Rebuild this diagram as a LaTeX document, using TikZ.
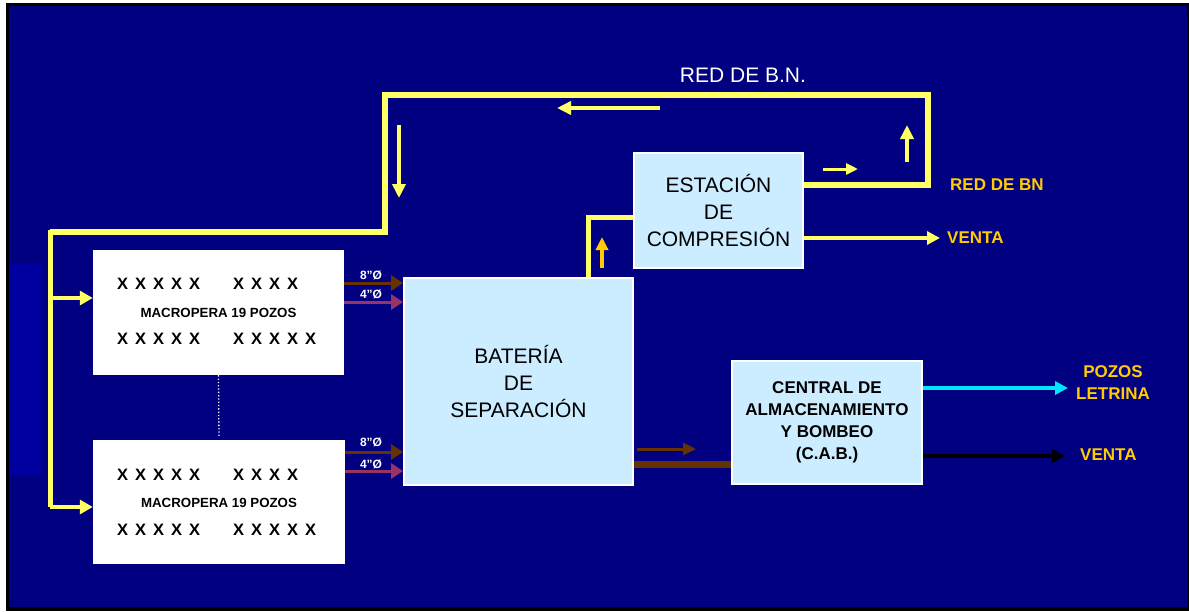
\documentclass[tikz,border=0pt]{standalone}
\usepackage{fontspec}
\setmainfont{Liberation Sans}
\usetikzlibrary{arrows.meta}
\definecolor{navybg}{RGB}{0,0,128}
\definecolor{stripe}{RGB}{0,0,160}
\definecolor{lightbox}{RGB}{204,236,255}
\definecolor{pipeyellow}{RGB}{255,255,102}
\definecolor{gold}{RGB}{255,204,0}
\definecolor{brownpipe}{RGB}{102,51,0}
\definecolor{mauve}{RGB}{153,51,102}
\definecolor{cyanline}{RGB}{0,230,255}
\newcommand\fsz[2]{\fontsize{#1}{#2}\selectfont}
\newcommand\xg{\hspace{7pt}}
\begin{document}
\begin{tikzpicture}[x=1pt,y=-1pt,
  procbox/.style={draw=white, line width=2pt, fill=lightbox, inner sep=0pt, align=center, text=black},
  bigtext/.style={font=\fsz{21}{27}},
  cabtext/.style={font=\bfseries\fsz{17}{22}},
  wellbox/.style={fill=white, draw=none, inner sep=0pt},
  xrow/.style={font=\bfseries\fsz{16.5}{16.5}, inner sep=0pt, anchor=west, text=black},
  mptext/.style={font=\bfseries\fsz{13.3}{13.3}, inner sep=0pt, text=black},
  goldlabel/.style={font=\bfseries\fsz{17}{22}, text=gold, inner sep=0pt, align=center},
  dimlabel/.style={font=\bfseries\fsz{12}{12}, text=white, inner sep=0pt},
  pipe/.style={draw=pipeyellow, line width=6.5pt, line join=miter},
  feedpipe/.style={draw=pipeyellow, line width=5pt, line join=miter},
  feedarrow/.style={draw=pipeyellow, line width=4pt, -{Triangle[length=13pt,width=14pt]}},
  flowarrow/.style={draw=pipeyellow, line width=3.5pt, -{Triangle[length=14pt,width=13pt]}},
  goldarrow/.style={draw=gold, line width=3.5pt, -{Triangle[length=13pt,width=12pt]}},
  outarrow/.style={line width=4pt, -{Triangle[length=13pt,width=13pt]}},
  gasin/.style={line width=3pt, -{Triangle[length=12pt,width=15pt]}}
]
\useasboundingbox (0,0) rectangle (1189,611);
% background and frame
\fill[white] (0,0) rectangle (1189,611);
\fill[black] (6,3) rectangle (1189,611);
\fill[navybg] (9,6) rectangle (1187,607);
\fill[stripe] (9,263) rectangle (42,475);

% main nodes
\node[procbox, bigtext, minimum width=169pt, minimum height=115pt] (est) at (718.5,210.5) {ESTACIÓN\\DE\\COMPRESIÓN};
\node[procbox, bigtext, minimum width=229pt, minimum height=207pt] (bat) at (518.5,381.5) {BATERÍA\\DE\\SEPARACIÓN};
\node[procbox, cabtext, minimum width=190pt, minimum height=123pt] (cab) at (827,422.5) {CENTRAL DE\\ALMACENAMIENTO\\Y BOMBEO\\(C.A.B.)};
\node[wellbox, minimum width=251pt, minimum height=125pt] (mp1) at (218.5,312.5) {};
\node[wellbox, minimum width=252pt, minimum height=124pt] (mp2) at (219,502) {};

% well box contents
\node[xrow] (mp1a) at (117,284) {X\xg X\xg X\xg X\xg X};
\node[xrow] (mp1b) at (233,284) {X\xg X\xg X\xg X};
\node[mptext] (mp1t) at (218.5,313) {MACROPERA 19 POZOS};
\node[xrow] (mp1c) at (117,339) {X\xg X\xg X\xg X\xg X};
\node[xrow] (mp1d) at (233,339) {X\xg X\xg X\xg X\xg X};
\node[xrow] (mp2a) at (117,475) {X\xg X\xg X\xg X\xg X};
\node[xrow] (mp2b) at (233,475) {X\xg X\xg X\xg X};
\node[mptext] (mp2t) at (219,503) {MACROPERA 19 POZOS};
\node[xrow] (mp2c) at (117,530) {X\xg X\xg X\xg X\xg X};
\node[xrow] (mp2d) at (233,530) {X\xg X\xg X\xg X\xg X};
\draw[white, line width=1.3pt, dotted, shorten >=3pt] (mp1.south) -- (mp2.north);

% labels
\node[font=\fsz{21}{21}, text=white, inner sep=0pt] (rbn) at (743,75) {RED DE B.N.};
\node[goldlabel, anchor=west] (rbn2) at (950,185) {RED DE BN};
\node[goldlabel, anchor=west] (venta1) at (947,238) {VENTA};
\node[goldlabel] (pozos) at (1113,383) {POZOS\\LETRINA};
\node[goldlabel, anchor=west] (venta2) at (1080,455) {VENTA};
\node[dimlabel] (d1) at (371,275) {8"Ø};
\node[dimlabel] (d2) at (371,294) {4"Ø};
\node[dimlabel] (d3) at (371,442) {8"Ø};
\node[dimlabel] (d4) at (371,464) {4"Ø};

% gas loop (red de bombeo neumatico)
\coordinate (r1) at (928,185);
\coordinate (c1) at (928,95);
\coordinate (c2) at (385,95);
\coordinate (c3) at (385,232);
\coordinate (c4) at (50,232);
\coordinate (b1) at (50,298);
\coordinate (b2) at (50,507);
\draw[pipe] (est.east |- r1) -- (r1) -- (c1) -- (c2) -- (c3) -- (50,232);
\draw[feedpipe] (c3) -- (c4) -- (b2);
\draw[feedarrow] (b1) -- (mp1.west |- b1);
\draw[feedarrow] (b2) -- (mp2.west |- b2);

% bateria -> estacion
\coordinate (k) at (588,217);
\draw[feedpipe] (bat.north -| k) -- (k) -- (est.west |- k);

% estacion -> venta
\coordinate (v1) at (940,238);
\draw[outarrow, draw=pipeyellow] (est.east |- v1) -- (v1);

% wells -> bateria
\coordinate (p1) at (370,283);
\coordinate (p2) at (370,302);
\coordinate (p3) at (370,452);
\coordinate (p4) at (370,471);
\draw[gasin, draw=brownpipe] (mp1.east |- p1) -- (bat.west |- p1);
\draw[gasin, draw=mauve] (mp1.east |- p2) -- (bat.west |- p2);
\draw[gasin, draw=brownpipe] (mp2.east |- p3) -- (bat.west |- p3);
\draw[gasin, draw=mauve] (mp2.east |- p4) -- (bat.west |- p4);

% bateria -> CAB
\coordinate (bl) at (680,464);
\draw[brownpipe, line width=7pt] (bat.east |- bl) -- (cab.west |- bl);

% CAB outputs
\coordinate (cy) at (1068,388);
\coordinate (bk) at (1065,456);
\draw[outarrow, draw=cyanline] (cab.east |- cy) -- (cy);
\draw[outarrow, draw=black] (cab.east |- bk) -- (bk);

% flow direction arrows
\draw[flowarrow] (399,125) -- (399,198);
\draw[flowarrow] (660,108) -- (557,108);
\draw[flowarrow] (907,162) -- (907,125);
\draw[flowarrow, line width=3pt, -{Triangle[length=12pt,width=11pt]}] (823,169) -- (858,169);
\draw[goldarrow] (602,268) -- (602,237);
\draw[draw=brownpipe, line width=3pt, -{Triangle[length=13pt,width=12pt]}] (637,449) -- (696,449);
\end{tikzpicture}
\end{document}
